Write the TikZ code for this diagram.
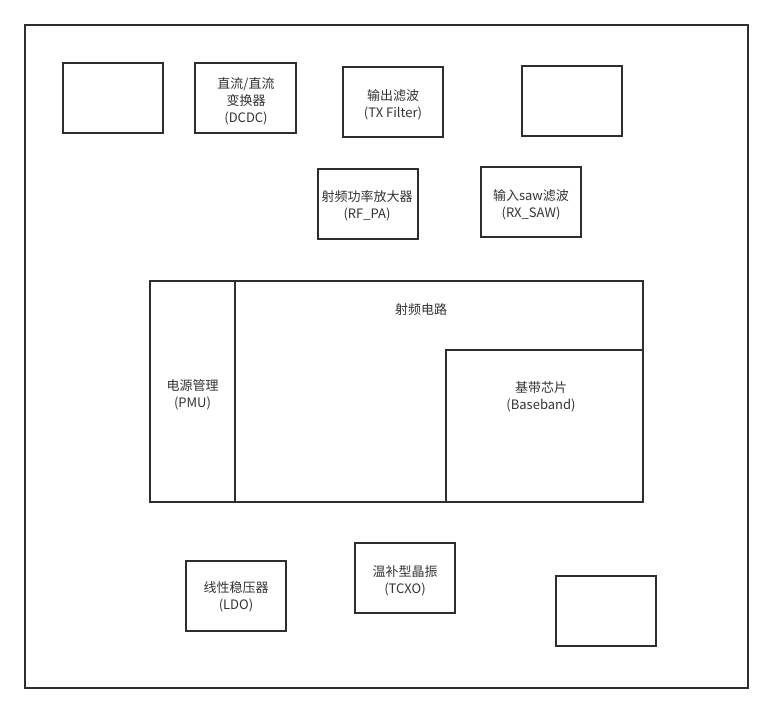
\documentclass[tikz,border=0pt]{standalone}
\usepackage{fontspec}
\setmainfont{Noto Sans CJK SC}
\definecolor{edge}{HTML}{2E2E2E}
\definecolor{txt}{HTML}{333333}
\tikzset{
  blk/.style={draw=edge, line width=1.6pt, fill=white, minimum width=100pt, minimum height=70pt,
    inner sep=0pt, align=center, text=txt, font=\fontsize{13pt}{17pt}\selectfont},
  lbl/.style={inner sep=0pt, align=center, text=txt, font=\fontsize{13pt}{17pt}\selectfont},
}
\begin{document}
\begin{tikzpicture}[x=1pt,y=-1pt]
\useasboundingbox (0,0) rectangle (773,713);
\fill[white] (0,0) rectangle (773,713);
% outer frame
\node[draw=edge, line width=1.6pt, minimum width=723pt, minimum height=663pt, inner sep=0pt] (frame) at (386.5,356.5) {};
% top row
\node[blk] (e1) at (113,98) {};
\node[blk, minimum width=101pt] (dcdc) at (245.5,98) {};
\node[lbl] (dcdct) at (246,101) {直流/直流\\变换器\\(DCDC)};
\node[blk] (txf) at (393,102) {};
\node[lbl] (txft) at (393,105) {输出滤波\\(TX Filter)};
\node[blk] (e2) at (572,101) {};
% second row
\node[blk] (rfpa) at (368,204) {};
\node[lbl] (rfpat) at (367,206) {射频功率放大器\\(RF\_PA)};
\node[blk] (rxsaw) at (531,202) {};
\node[lbl] (rxsawt) at (531,205) {输入saw滤波\\(RX\_SAW)};
% central block
\node[draw=edge, line width=1.6pt, minimum width=408pt, minimum height=221pt, inner sep=0pt] (rf) at (439,391.5) {};
\node[lbl] (rft) at (421,310) {射频电路};
\node[draw=edge, line width=1.6pt, minimum width=85pt, minimum height=221pt, inner sep=0pt] (pmu) at (192.5,391.5) {};
\node[lbl] (pmut) at (192.5,395) {电源管理\\(PMU)};
\node[draw=edge, line width=1.6pt, minimum width=197pt, minimum height=152pt, inner sep=0pt] (bb) at (544.5,426) {};
\node[lbl] (bbt) at (541,397) {基带芯片\\(Baseband)};
% bottom row
\node[blk] (ldo) at (236,596) {};
\node[lbl] (ldot) at (236,597) {线性稳压器\\(LDO)};
\node[blk] (tcxo) at (405,578) {};
\node[lbl] (tcxot) at (405,581) {温补型晶振\\(TCXO)};
\node[blk] (e3) at (606,611) {};
\end{tikzpicture}
\end{document}
